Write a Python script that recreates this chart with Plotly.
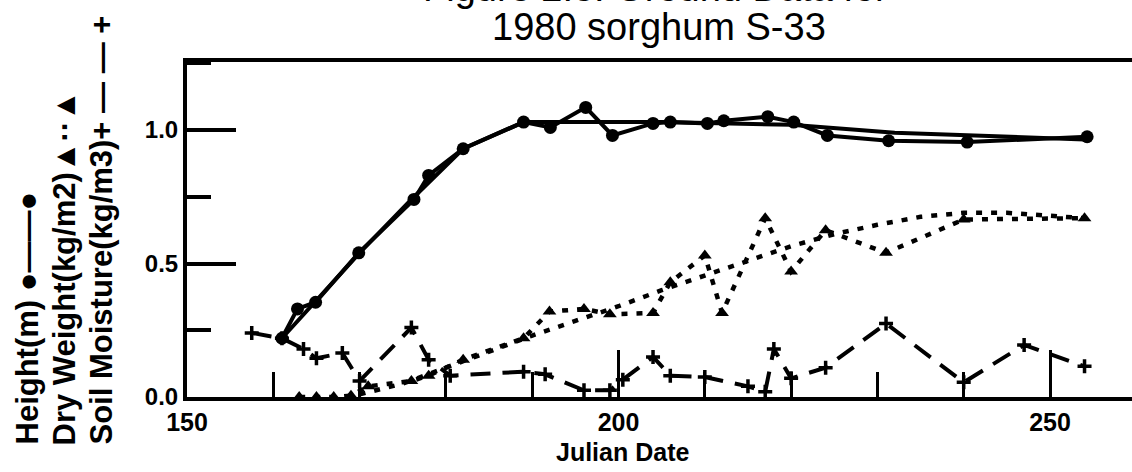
import plotly.graph_objects as go

# Height (m): measured points and the smoothed curve drawn through them
height_days = [161, 162.8, 164.9, 169.9, 176.3, 178, 182, 189, 192.1, 196.2, 199.3, 204, 206,
               210.3, 212.2, 217.3, 220.3, 224.2, 231.3, 240.4, 254.3]
height_vals = [0.22, 0.33, 0.355, 0.54, 0.74, 0.83, 0.93, 1.03, 1.01, 1.085, 0.98, 1.025, 1.03,
               1.025, 1.035, 1.05, 1.03, 0.98, 0.96, 0.955, 0.975]
height_fit_days = [161, 170, 176, 182, 189, 205, 220, 232, 254]
height_fit_vals = [0.22, 0.54, 0.74, 0.93, 1.03, 1.03, 1.02, 0.99, 0.965]

# Dry weight (kg/m2)
dry_days = [163, 165, 167, 169, 171, 176, 178, 182, 189, 192, 196, 199, 204, 206, 210, 212,
            217, 220, 224, 231, 240, 254]
dry_vals = [0.0, 0.0, 0.0, 0.005, 0.04, 0.06, 0.08, 0.14, 0.22, 0.32, 0.33, 0.31, 0.315, 0.43,
            0.53, 0.315, 0.67, 0.47, 0.625, 0.54, 0.665, 0.67]
dry_fit_days = [170, 175, 180, 185, 190, 195, 200, 205, 210, 215, 220, 225, 230, 235, 240, 245, 250, 254]
dry_fit_vals = [0.01, 0.05, 0.11, 0.17, 0.23, 0.285, 0.34, 0.40, 0.455, 0.51, 0.565, 0.61,
                0.645, 0.675, 0.69, 0.69, 0.68, 0.67]

# Soil moisture (kg/m3)
soil_days = [157.5, 161, 163.5, 165, 168, 170, 176, 178, 180.5, 189, 191.5, 196, 199, 200.5,
             204, 206, 210, 215, 217, 218, 220, 224, 231, 240, 247, 254]
soil_vals = [0.24, 0.22, 0.18, 0.145, 0.165, 0.06, 0.26, 0.14, 0.08, 0.095, 0.085, 0.025, 0.025,
             0.065, 0.15, 0.08, 0.075, 0.04, 0.02, 0.18, 0.07, 0.11, 0.275, 0.055, 0.195, 0.115]

x_ticks = [150, 200, 250]
y_ticks = [0.0, 0.5, 1.0]
y_tick_text = ["0.0", "0.5", "1.0"]

W, H = 1132, 472
L, R, T, B = 187, 0, 62, 75
BLACK = "black"
FONT = "Liberation Sans"


def px_x(px):
    return (px - L) / (W - L - R)


def px_y(py):
    return (H - B - py) / (H - B - T)


fig = go.Figure()
fig.add_trace(go.Scatter(x=height_fit_days, y=height_fit_vals, mode="lines",
                         line=dict(color=BLACK, width=4), hoverinfo="skip"))
fig.add_trace(go.Scatter(x=height_days, y=height_vals, mode="lines+markers",
                         line=dict(color=BLACK, width=4),
                         marker=dict(symbol="circle", size=13, color=BLACK), name="Height(m)"))
fig.add_trace(go.Scatter(x=dry_fit_days, y=dry_fit_vals, mode="lines",
                         line=dict(color=BLACK, width=4.5, dash="6px,9px"), hoverinfo="skip"))
fig.add_trace(go.Scatter(x=dry_days, y=dry_vals, mode="lines+markers",
                         line=dict(color=BLACK, width=4.5, dash="6px,9px"),
                         marker=dict(symbol="triangle-up", size=12, color=BLACK),
                         name="Dry Weight(kg/m2)"))
fig.add_trace(go.Scatter(x=soil_days, y=soil_vals, mode="lines+markers",
                         line=dict(color=BLACK, width=4, dash="20px,12px"),
                         marker=dict(symbol="cross-thin", size=10, line=dict(width=3.5, color=BLACK)),
                         name="Soil Moisture(kg/m3)"))

fig.update_xaxes(
    range=[150, 259.5], tickvals=x_ticks, ticks="inside", ticklen=47, tickwidth=3, tickcolor=BLACK,
    showline=True, linewidth=4, linecolor=BLACK, mirror=True, showgrid=False, zeroline=False,
    minor=dict(dtick=10, tick0=150, ticks="inside", ticklen=25, tickwidth=3, tickcolor=BLACK),
    tickfont=dict(family=FONT, size=25, color=BLACK, weight="bold"),
)
fig.update_yaxes(
    range=[0, 1.255], tickvals=y_ticks, ticktext=y_tick_text, ticks="inside", ticklen=49,
    tickwidth=4, tickcolor=BLACK, showline=True, linewidth=4, linecolor=BLACK, showgrid=False,
    zeroline=False,
    minor=dict(dtick=0.25, tick0=0, ticks="inside", ticklen=24, tickwidth=4, tickcolor=BLACK),
    tickfont=dict(family=FONT, size=24, color=BLACK, weight="bold"),
)

# first title line is cut off at the top edge, as in the scanned original
annotations = [
    dict(text="Figure 2.3. Ground Data for", x=px_x(655), y=px_y(-12), font=dict(size=38)),
    dict(text="1980 sorghum S-33", x=px_x(659), y=px_y(27), font=dict(size=38)),
    dict(text="<b>Julian Date</b>", x=px_x(622), y=px_y(452), font=dict(size=25)),
]
legend_cols = [
    ("Height(m) ●——●", 27),
    ("Dry Weight(kg/m2)▲··▲", 64),
    ("Soil Moisture(kg/m3)+ — — +", 101),
]
for label, cx in legend_cols:
    annotations.append(dict(text=f"<b>{label}</b>", x=px_x(cx), y=px_y(447), yanchor="bottom",
                            textangle=-90, font=dict(size=31)))
for a in annotations:
    a.setdefault("xanchor", "center")
    a.setdefault("yanchor", "middle")
    a["font"].update(family=FONT, color=BLACK)
    fig.add_annotation(xref="paper", yref="paper", showarrow=False, **a)

fig.update_layout(
    width=W, height=H, margin=dict(l=L, r=R, t=T, b=B),
    paper_bgcolor="white", plot_bgcolor="white", showlegend=False,
)
fig.write_html("out.html", config={"displayModeBar": False},
               post_script="document.body.style.margin='0';")
